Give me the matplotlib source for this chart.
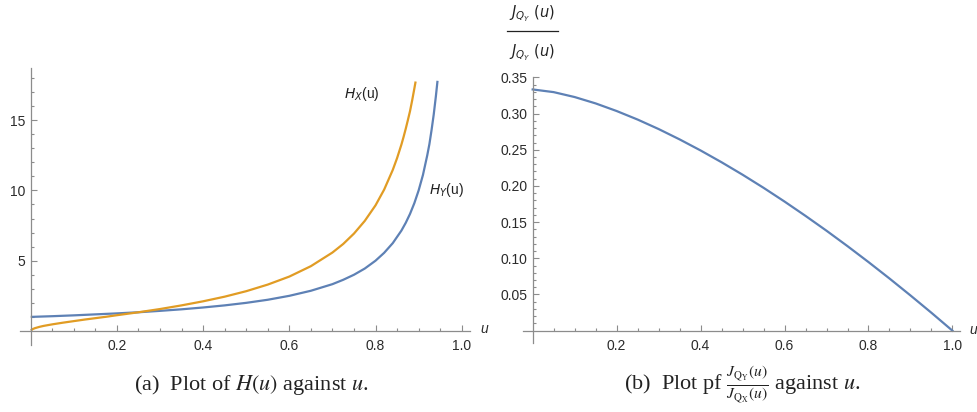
import numpy as np
import matplotlib.pyplot as plt
from matplotlib.ticker import FixedLocator
from matplotlib.lines import Line2D

# === DATOS ===
u_hx = [0.0, 0.005, 0.01, 0.02, 0.03, 0.05, 0.075, 0.1, 0.125, 0.15, 0.175, 0.2,
        0.25, 0.3, 0.35, 0.4, 0.45, 0.5, 0.55, 0.6, 0.65, 0.7, 0.725, 0.75,
        0.775, 0.8, 0.82, 0.84, 0.85, 0.86, 0.865, 0.87, 0.875, 0.88, 0.885,
        0.89, 0.893]
h_x = [0.03, 0.14, 0.20, 0.29, 0.36, 0.47, 0.59, 0.70, 0.81, 0.91, 1.01, 1.12,
       1.33, 1.56, 1.82, 2.11, 2.44, 2.83, 3.30, 3.87, 4.61, 5.58, 6.19, 6.93,
       7.83, 8.94, 10.06, 11.46, 12.30, 13.26, 13.80, 14.38, 15.00, 15.64, 16.41,
       17.24, 17.75]

u_hy = [0.0, 0.05, 0.1, 0.15, 0.2, 0.25, 0.3, 0.35, 0.4, 0.45, 0.5, 0.55, 0.6,
        0.65, 0.7, 0.725, 0.75, 0.775, 0.8, 0.82, 0.84, 0.86, 0.87, 0.88, 0.89,
        0.9, 0.91, 0.92, 0.925, 0.93, 0.935, 0.94, 0.9438]
h_y = [1.0, 1.05, 1.11, 1.18, 1.25, 1.33, 1.43, 1.54, 1.67, 1.82, 2.0, 2.22, 2.5,
       2.86, 3.33, 3.64, 4.0, 4.44, 5.0, 5.56, 6.25, 7.14, 7.69, 8.33, 9.09,
       10.0, 11.1, 12.5, 13.3, 14.3, 15.4, 16.7, 17.8]

u_j = [0.0, 0.05, 0.1, 0.15, 0.2, 0.25, 0.3, 0.35, 0.4, 0.45, 0.5, 0.55, 0.6,
       0.65, 0.7, 0.75, 0.8, 0.85, 0.9, 0.95, 1.0]
ratio_j = [0.3333, 0.3296, 0.3228, 0.3140, 0.3035, 0.2917, 0.2786, 0.2643, 0.2490,
           0.2327, 0.2155, 0.1974, 0.1784, 0.1586, 0.1381, 0.1168, 0.0948, 0.0721,
           0.0487, 0.0247, 0.0]

x_ticks = [0.2, 0.4, 0.6, 0.8, 1.0]
x_ticklabels = ["0.2", "0.4", "0.6", "0.8", "1.0"]
y_ticks_a = [5, 10, 15]
y_ticks_b = [0.05, 0.10, 0.15, 0.20, 0.25, 0.30, 0.35]
y_ticklabels_b = ["0.05", "0.10", "0.15", "0.20", "0.25", "0.30", "0.35"]

azul = '#5E81B5'
naranja = '#E19C24'
gris = '#8c8c8c'
texto = '#2b2b2b'

plt.rcParams['font.family'] = ['Liberation Sans', 'DejaVu Sans']

fig = plt.figure(figsize=(9.78, 4.12), dpi=100)


def estilo_ejes(ax):
    for lado in ['top', 'right']:
        ax.spines[lado].set_visible(False)
    ax.spines['left'].set_position(('data', 0))
    ax.spines['bottom'].set_position(('data', 0))
    for lado in ['left', 'bottom']:
        ax.spines[lado].set_color(gris)
        ax.spines[lado].set_linewidth(0.9)
    ax.tick_params(which='both', direction='in', color=gris, width=0.8,
                   labelcolor=texto, labelsize=10)
    ax.tick_params(which='major', length=4.5)
    ax.tick_params(which='minor', length=2.5)
    ax.tick_params(axis='x', pad=6)
    ax.tick_params(axis='y', pad=4)


# === PANEL (a) ===
ax1 = fig.add_axes([0.0204, 0.1626, 0.4601, 0.672])
ax1.plot(u_hy, h_y, color=azul, linewidth=1.6, solid_capstyle='butt')
ax1.plot(u_hx, h_x, color=naranja, linewidth=1.6, solid_capstyle='butt')
ax1.set_xlim(-0.025, 1.019)
ax1.set_ylim(-1.0, 18.7)
estilo_ejes(ax1)
ax1.xaxis.set_major_locator(FixedLocator(x_ticks))
ax1.set_xticklabels(x_ticklabels)
ax1.xaxis.set_minor_locator(FixedLocator(np.arange(0.05, 1.01, 0.05)))
ax1.yaxis.set_major_locator(FixedLocator(y_ticks_a))
ax1.yaxis.set_minor_locator(FixedLocator(np.arange(1, 19, 1)))
ax1.text(0.767, 16.85, r'$H_X$(u)', fontsize=10, ha='center', va='center',
         color='#222222', math_fontfamily='dejavusans')
ax1.text(0.965, 10.0, r'$H_Y$(u)', fontsize=10, ha='center', va='center',
         color='#222222', math_fontfamily='dejavusans')
fig.text(484 / 978, 1 - 329 / 412, 'u', style='italic', fontsize=10,
         color=texto, ha='center', va='center')

# === PANEL (b) ===
ax2 = fig.add_axes([0.5348, 0.1675, 0.4468, 0.6456])
ax2.plot(u_j, ratio_j, color=azul, linewidth=1.6)
ax2.set_xlim(-0.023, 1.018)
ax2.set_ylim(-0.017, 0.3505)
estilo_ejes(ax2)
ax2.xaxis.set_major_locator(FixedLocator(x_ticks))
ax2.set_xticklabels(x_ticklabels)
ax2.xaxis.set_minor_locator(FixedLocator(np.arange(0.05, 1.01, 0.05)))
ax2.yaxis.set_major_locator(FixedLocator(y_ticks_b))
ax2.set_yticklabels(y_ticklabels_b)
ax2.yaxis.set_minor_locator(FixedLocator(np.arange(0.01, 0.351, 0.01)))
fig.text(973 / 978, 1 - 330 / 412, 'u', style='italic', fontsize=10,
         color=texto, ha='center', va='center')

# etiqueta fraccion eje y
fig.text(532 / 978, 1 - 14 / 412, r'$J_{Q_Y}\ (u)$', fontsize=10.5,
         ha='center', va='center', color='#222222', math_fontfamily='dejavusans')
fig.text(532 / 978, 1 - 53 / 412, r'$J_{Q_Y}\ (u)$', fontsize=10.5,
         ha='center', va='center', color='#222222', math_fontfamily='dejavusans')
fig.add_artist(Line2D([507 / 978, 558 / 978], [1 - 31 / 412, 1 - 31 / 412],
                      color='#222222', linewidth=0.9))

# === TITULOS (a) y (b) ===
fig.text(251 / 978, 1 - 385 / 412, r'(a)  Plot of $H(u)$ against $u$.',
         fontsize=16, family='Liberation Serif', math_fontfamily='stix',
         ha='center', va='center', color='#222222')
fig.text(742 / 978, 1 - 385 / 412,
         r'(b)  Plot pf $\frac{J_{\mathrm{Q_Y}}(u)}{J_{\mathrm{Q_X}}(u)}$ against $u$.',
         fontsize=16, family='Liberation Serif', math_fontfamily='stix',
         ha='center', va='center', color='#222222')

plt.savefig('out.png', dpi=100)
